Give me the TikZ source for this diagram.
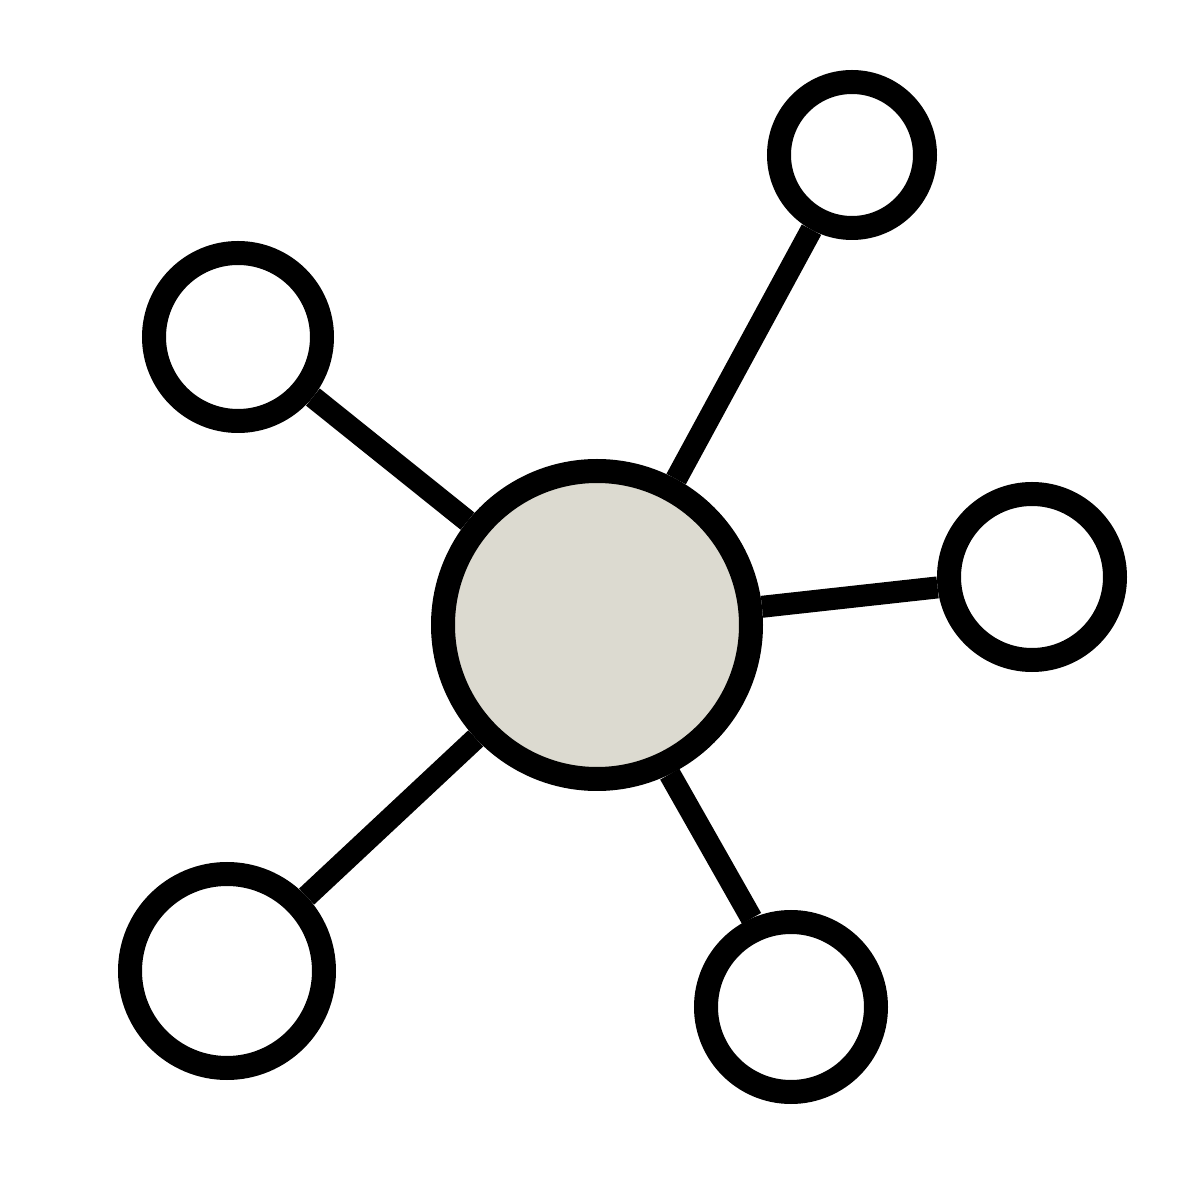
\documentclass[tikz,border=0pt]{standalone}
\definecolor{hubfill}{HTML}{DCDAD0}
\begin{document}
\begin{tikzpicture}[
  sat/.style={circle, draw=black, fill=white, line width=0.24cm, inner sep=0pt},
  hub/.style={circle, draw=black, fill=hubfill, line width=0.24cm, inner sep=0pt},
  link/.style={draw=black, line width=0.22cm}
]
\useasboundingbox (0,0) rectangle (12,12);
\fill[white] (0,0) rectangle (12,12);
\node[hub, minimum size=3.08cm] (c) at (5.97,5.75) {};
\node[sat, minimum size=1.46cm] (tr) at (8.52,10.45) {};
\node[sat, minimum size=1.68cm] (tl) at (2.38,8.63) {};
\node[sat, minimum size=1.66cm] (r) at (10.32,6.23) {};
\node[sat, minimum size=1.94cm] (bl) at (2.27,2.29) {};
\node[sat, minimum size=1.70cm] (b) at (7.91,1.93) {};
\draw[link] (c) -- (tr);
\draw[link] (c) -- (tl);
\draw[link] (c) -- (r);
\draw[link] (c) -- (bl);
\draw[link] (c.-64) -- (b.114);
\end{tikzpicture}
\end{document}
